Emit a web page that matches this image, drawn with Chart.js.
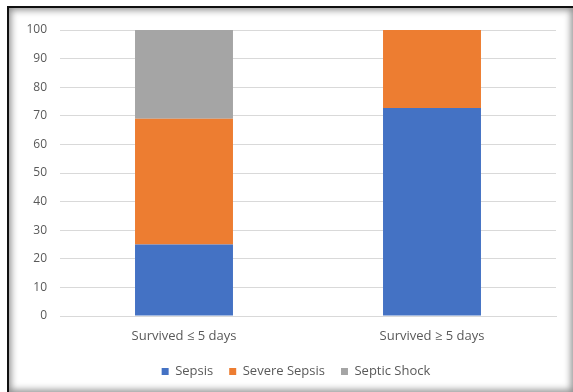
<!DOCTYPE html>
<html>
<head>
<meta charset="utf-8">
<script src="https://cdn.jsdelivr.net/npm/chart.js@4/dist/chart.umd.min.js"></script>
<style>
    html, body { margin: 0; padding: 0; background: #fff; }
    #wrap { position: relative; width: 573px; height: 392px; overflow: hidden; background: #fff; }
    /* dark edge on left and top, soft shadow inside the frame */
    #frame {
        position: absolute; left: 7px; top: 6px; width: 570px; height: 390px;
        border-left: 2px solid #111; border-top: 2px solid #111;
    }
    #shade {
        position: absolute; left: 9px; top: 8px; width: 564px; height: 384px;
        box-shadow: inset 0 0 7px 2px rgba(0,0,0,0.45);
    }
    #chart { position: absolute; left: 0; top: 0; }
</style>
</head>
<body>
<div id="wrap">
    <div id="frame"></div>
    <div id="shade"></div>
    <canvas id="chart" width="573" height="392"></canvas>
</div>
<script>
// categories and series (percent of patients)
const categories = ['Survived \u2264 5 days', 'Survived \u2265 5 days'];
const sepsis = [25, 72.7];
const severeSepsis = [44, 27.3];
const septicShock = [31, 0];
const yTicks = [0, 10, 20, 30, 40, 50, 60, 70, 80, 90, 100];

const textColor = '#595959';
const fontFamily = "'Open Sans', sans-serif";

// nudge the legend so it sits a little right of the canvas centre
const legendShift = {
    id: 'legendShift',
    afterLayout(chart) {
        let lg = chart.legend;
        lg.left += 18;
        lg.right += 18;
    }
};

let ctx = document.getElementById('chart').getContext('2d');

new Chart(ctx, {
    type: 'bar',
    data: {
        labels: categories,
        datasets: [
            { label: 'Sepsis', data: sepsis, backgroundColor: '#4472C4' },
            { label: 'Severe Sepsis', data: severeSepsis, backgroundColor: '#ED7D31' },
            { label: 'Septic Shock', data: septicShock, backgroundColor: '#A5A5A5' }
        ]
    },
    options: {
        responsive: false,
        animation: false,
        layout: { padding: { top: 30, right: 17, bottom: 4, left: 0 } },
        datasets: { bar: { categoryPercentage: 1, barPercentage: 0.395 } },
        scales: {
            x: {
                stacked: true,
                grid: { display: false },
                border: { color: '#d9d9d9', width: 1 },
                ticks: { color: textColor, font: { family: fontFamily, size: 13 }, padding: 4 },
                afterFit: (scale) => { scale.height = 33; }
            },
            y: {
                stacked: true,
                min: 0,
                max: 100,
                afterBuildTicks: (scale) => { scale.ticks = yTicks.map(v => ({ value: v })); },
                grid: { color: '#d9d9d9', drawTicks: false },
                border: { display: false },
                ticks: { color: textColor, font: { family: fontFamily, size: 12 }, padding: 13 },
                afterFit: (scale) => { scale.width = 60; }
            }
        },
        plugins: {
            legend: {
                position: 'bottom',
                labels: {
                    color: textColor,
                    font: { family: fontFamily, size: 13 },
                    boxWidth: 7,
                    boxHeight: 7,
                    padding: 16
                }
            },
            tooltip: { enabled: false }
        }
    },
    plugins: [legendShift]
});
</script>
</body>
</html>
